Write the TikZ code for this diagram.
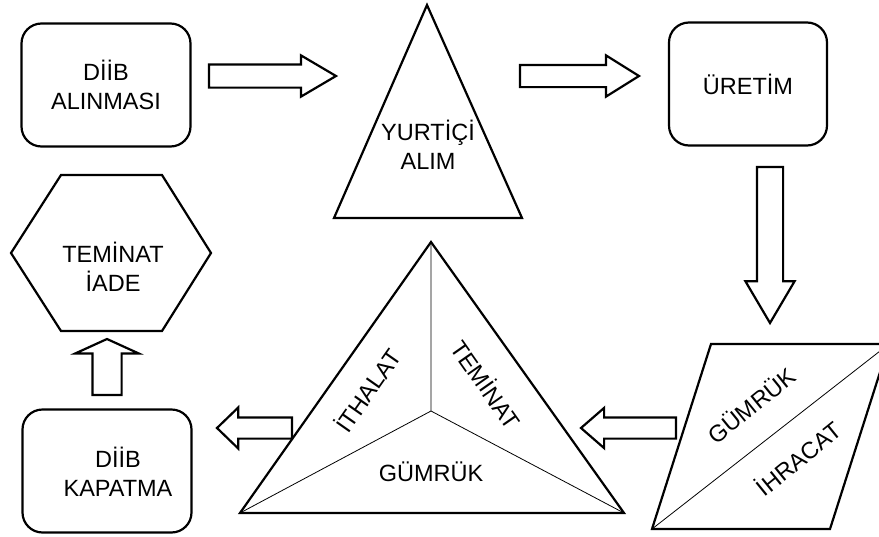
\documentclass[tikz,border=0pt]{standalone}
\usepackage{fontspec}
\setmainfont{Liberation Sans}
\usetikzlibrary{shapes.arrows}

\begin{document}
\begin{tikzpicture}[x=1pt, y=-1pt, line join=miter,
    font=\fontsize{23.5}{29}\selectfont,
    box/.style={draw, line width=2.2pt, rounded corners=20pt, minimum width=169pt, minimum height=123pt, align=center},
    txt/.style={align=center},
    outline/.style={line width=2.2pt},
    split/.style={line width=0.8pt},
    barrow/.style n args={4}{single arrow, draw, line width=2.2pt, inner xsep=0pt, outer sep=0pt, anchor=tail,
        minimum height=#1, inner ysep=#2, single arrow head extend=#3, single arrow tip angle=#4}]
    \useasboundingbox (0,0) rectangle (879,536);
    \clip (0,0) rectangle (879,536);

    % top row
    \node[box] (alinma) at (106,85) {DİİB\\ALINMASI};
    \node[barrow={127pt}{10.5pt}{9pt}{61}] (a1) at (209,76) {};
    \draw[outline] (427,5) -- (522,218) -- (334,218) -- cycle;
    \node[txt] (yurtici) at (428,145) {YURTİÇİ\\ALIM};
    \node[barrow={119pt}{10pt}{9.5pt}{64}] (a2) at (520,76) {};
    \node[box, minimum width=158pt] (uretim) at (748,84) {ÜRETİM};
    \node[barrow={156pt}{12pt}{11.5pt}{61}, rotate=-90] (a3) at (770,167) {};

    % bottom row
    \draw[outline] (711,344) -- (889,344) -- (830,529) -- (652,529) -- cycle;
    \draw[split] (652,529) -- (889,344);
    \node[txt, rotate=39] (gumrukb) at (751,405) {GÜMRÜK};
    \node[txt, rotate=39] (ihracat) at (798,458) {İHRACAT};
    \node[barrow={95pt}{9.5pt}{9.5pt}{82}, rotate=180] (a4) at (676,428) {};

    \draw[outline] (431,242) -- (624,513) -- (240,513) -- cycle;
    \coordinate (mid) at (431,411);
    \draw[split] (431,242) -- (mid) (240,513) -- (mid) -- (624,513);
    \node[txt, rotate=55] (ithalat) at (367,390) {İTHALAT};
    \node[txt, rotate=-55] (teminat) at (487,384) {TEMİNAT};
    \node[txt] (gumruka) at (431,472) {GÜMRÜK};
    \node[barrow={75pt}{9.5pt}{10pt}{88}, rotate=180] (a5) at (292,428) {};

    \node[box] (kapatma) at (107,471) {};
    \node[txt] (kapatmatxt) at (118,472) {DİİB\\KAPATMA};
    \node[barrow={56pt}{13.5pt}{17pt}{131}, rotate=90] (a6) at (107,395) {};

    % hexagon
    \draw[outline] (11,253) -- (61,175) -- (162,175) -- (211,253) -- (162,331) -- (61,331) -- cycle;
    \node[txt] (iade) at (113,267) {TEMİNAT\\İADE};
\end{tikzpicture}
\end{document}
